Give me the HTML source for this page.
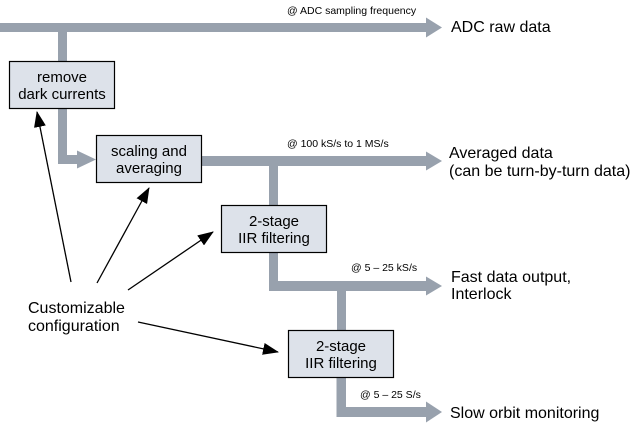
<!DOCTYPE html>
<html>
<head>
<meta charset="utf-8">
<style>
  html,body{margin:0;padding:0;background:#fff;}
  svg{display:block;}
  text{font-family:"Liberation Sans", Arial, sans-serif;fill:#000;}
  .box{fill:#dde2ea;stroke:#000;stroke-width:1.2;}
  .bar{fill:#98a1ad;}
  .bt{font-size:15px;text-anchor:middle;}
  .ot{font-size:16px;}
  .st{font-size:10.5px;}
  .ar{stroke:#000;stroke-width:1.3;fill:none;}
</style>
</head>
<body>
<svg width="638" height="436" viewBox="0 0 638 436" xmlns="http://www.w3.org/2000/svg">
  <defs>
    <marker id="ah" markerWidth="16" markerHeight="12" refX="15" refY="6" orient="auto" markerUnits="userSpaceOnUse">
      <polygon points="0,0 16,6 0,12" fill="#000"/>
    </marker>
  </defs>

  <!-- Top bar: ADC raw data -->
  <rect class="bar" x="0" y="23" width="427" height="9"/>
  <polygon class="bar" points="426,17.5 442,27.5 426,37.5"/>
  <rect class="bar" x="58" y="32" width="9" height="29"/>
  <rect class="bar" x="58" y="109" width="9" height="55"/>
  <rect class="bar" x="58" y="155" width="20" height="9"/>
  <polygon class="bar" points="77,150.5 96,159.5 77,168.5"/>

  <!-- Second bar: averaged -->
  <rect class="bar" x="202" y="156" width="225" height="10"/>
  <polygon class="bar" points="426,151.5 442,161 426,170.5"/>
  <rect class="bar" x="269" y="166" width="9" height="39"/>

  <!-- Third bar: fast data -->
  <rect class="bar" x="269" y="253" width="9" height="38"/>
  <rect class="bar" x="269" y="281" width="158" height="10"/>
  <polygon class="bar" points="426,276.5 442,286 426,295.5"/>
  <rect class="bar" x="337" y="291" width="9" height="39"/>

  <!-- Fourth bar: slow orbit -->
  <rect class="bar" x="336.5" y="378" width="9.5" height="39"/>
  <rect class="bar" x="336.5" y="407" width="90.5" height="10"/>
  <polygon class="bar" points="426,401.5 442,412 426,422.5"/>

  <!-- Boxes -->
  <rect class="box" x="9.5" y="61.5" width="105" height="47"/>
  <text class="bt" x="62" y="82">remove</text>
  <text class="bt" x="62" y="99">dark currents</text>

  <rect class="box" x="96.5" y="135.5" width="105" height="47"/>
  <text class="bt" x="149" y="156">scaling and</text>
  <text class="bt" x="149" y="173">averaging</text>

  <rect class="box" x="221.5" y="205.5" width="105" height="47"/>
  <text class="bt" x="274" y="226">2-stage</text>
  <text class="bt" x="274" y="243">IIR filtering</text>

  <rect class="box" x="288.5" y="330.5" width="105" height="47"/>
  <text class="bt" x="341" y="351">2-stage</text>
  <text class="bt" x="341" y="368">IIR filtering</text>

  <!-- Small rate labels -->
  <text class="st" x="287" y="14">@ ADC sampling frequency</text>
  <text class="st" x="287" y="147">@ 100 kS/s to 1 MS/s</text>
  <text class="st" x="351" y="271">@ 5 – 25 kS/s</text>
  <text class="st" x="360" y="398">@ 5 – 25 S/s</text>

  <!-- Output labels -->
  <text class="ot" x="451" y="32">ADC raw data</text>
  <text class="ot" x="449" y="158">Averaged data</text>
  <text class="ot" x="449" y="176">(can be turn-by-turn data)</text>
  <text class="ot" x="451" y="282">Fast data output,</text>
  <text class="ot" x="451" y="299">Interlock</text>
  <text class="ot" x="450" y="418">Slow orbit monitoring</text>

  <!-- Customizable configuration -->
  <text class="ot" x="28" y="313">Customizable</text>
  <text class="ot" x="28" y="331">configuration</text>

  <line class="ar" x1="71" y1="282" x2="37" y2="112" marker-end="url(#ah)"/>
  <line class="ar" x1="97" y1="283" x2="149" y2="188" marker-end="url(#ah)"/>
  <line class="ar" x1="128" y1="290" x2="213" y2="232" marker-end="url(#ah)"/>
  <line class="ar" x1="138" y1="322" x2="278" y2="352" marker-end="url(#ah)"/>
</svg>
</body>
</html>
